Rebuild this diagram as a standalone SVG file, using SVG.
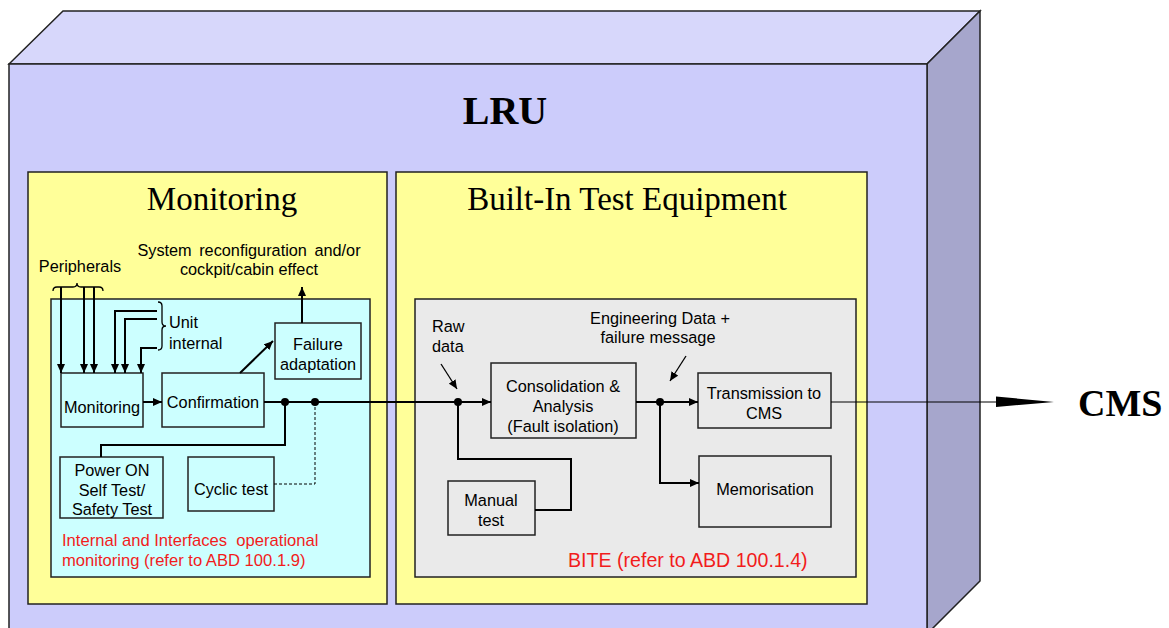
<svg xmlns="http://www.w3.org/2000/svg" width="1169" height="628" viewBox="0 0 1169 628">
<style>
.box{stroke:#222;stroke-width:1.5}
.t{font-family:"Liberation Sans",Arial,sans-serif;font-size:16.3px;fill:#000;text-anchor:middle}
.ts{font-family:"Liberation Sans",Arial,sans-serif;font-size:16.3px;fill:#000}
.red{font-family:"Liberation Sans",Arial,sans-serif;fill:#f21c1c}
.serif{font-family:"Liberation Serif","Times New Roman",serif;fill:#000;text-anchor:middle}
.c{fill:none;stroke:#000;stroke-width:2}
.thin{fill:none;stroke:#000;stroke-width:1.3}
</style>
<defs>
<marker id="ah" markerUnits="userSpaceOnUse" markerWidth="9" markerHeight="8" refX="9" refY="4" orient="auto">
<path d="M0,0 L9,4 L0,8 z" fill="#000"/>
</marker>
</defs>
<rect width="1169" height="628" fill="#fff"/>
<g id="lru">
<polygon points="9,64 63,11 980,11 927,64" fill="#d7d7fb" class="box"/>
<polygon points="927,64 980,11 980,581 927,634" fill="#a6a6cc" class="box"/>
<rect x="9" y="64" width="918" height="570" fill="#ccccfb" class="box"/>
<text x="505" y="124" class="serif" font-size="40" font-weight="bold">LRU</text>
</g>
<g id="monitoring-panel">
<rect x="28" y="172" width="359" height="432" fill="#ffff99" class="box"/>
<text x="222" y="210" class="serif" font-size="33">Monitoring</text>
<rect x="51" y="299" width="319" height="278" fill="#ccffff" class="box"/>
<text x="62" y="546" class="red" font-size="16.6">Internal and Interfaces&#160; operational</text>
<text x="62" y="566" class="red" font-size="16.6">monitoring (refer to ABD 100.1.9)</text>
</g>
<g id="bite-panel">
<rect x="396" y="172" width="471" height="432" fill="#ffff99" class="box"/>
<text x="627" y="210" class="serif" font-size="33">Built-In Test Equipment</text>
<rect x="415" y="299" width="441" height="278" fill="#eaeaea" class="box"/>
<text x="568" y="567" class="red" font-size="19.6">BITE (refer to ABD 100.1.4)</text>
</g>
<g id="labels">
<text x="249" y="256" class="t" word-spacing="3">System reconfiguration and/or</text>
<text x="249" y="275" class="t">cockpit/cabin effect</text>
<text x="80" y="272" class="t">Peripherals</text>
<text x="169" y="328" class="ts">Unit</text>
<text x="169" y="349" class="ts">internal</text>
<text x="432" y="332" class="ts">Raw</text>
<text x="432" y="352" class="ts">data</text>
<text x="660" y="324" class="t">Engineering Data +</text>
<text x="658" y="343" class="t">failure message</text>
<text x="1078" y="416" font-family="Liberation Serif,'Times New Roman',serif" font-size="38" font-weight="bold">CMS</text>
</g>
<g id="node-monitoring">
<rect x="61" y="373" width="82" height="54" fill="none" class="box"/>
<text x="102" y="413" class="t">Monitoring</text>
</g>
<g id="node-confirmation">
<rect x="162" y="373" width="102" height="54" fill="none" class="box"/>
<text x="213" y="408" class="t">Confirmation</text>
</g>
<g id="node-failure">
<rect x="275" y="323" width="86" height="56" fill="none" class="box"/>
<text x="318" y="350" class="t">Failure</text>
<text x="318" y="370" class="t">adaptation</text>
</g>
<g id="node-poweron">
<rect x="60" y="457" width="103" height="61" fill="none" class="box"/>
<text x="112" y="476" class="t">Power ON</text>
<text x="112" y="496" class="t">Self Test/</text>
<text x="112" y="515" class="t">Safety Test</text>
</g>
<g id="node-cyclic">
<rect x="188" y="457" width="86" height="54" fill="none" class="box"/>
<text x="231" y="495" class="t">Cyclic test</text>
</g>
<g id="node-consolidation">
<rect x="491" y="363" width="145" height="75" fill="none" class="box"/>
<text x="563" y="392" class="t">Consolidation &amp;</text>
<text x="563" y="412" class="t">Analysis</text>
<text x="563" y="432" class="t">(Fault isolation)</text>
</g>
<g id="node-transmission">
<rect x="698" y="373" width="133" height="55" fill="none" class="box"/>
<text x="764" y="399" class="t">Transmission to</text>
<text x="764" y="419" class="t">CMS</text>
</g>
<g id="node-manual">
<rect x="448" y="481" width="87" height="54" fill="none" class="box"/>
<text x="491" y="506" class="t">Manual</text>
<text x="491" y="526" class="t">test</text>
</g>
<g id="node-memorisation">
<rect x="699" y="456" width="132" height="71" fill="none" class="box"/>
<text x="765" y="495" class="t">Memorisation</text>
</g>
<g id="connectors">
<path d="M53,291 q0,-4 4,-4 h16 q4,0 4,-4 q0,4 4,4 h18 q4,0 4,4" class="thin"/>
<path d="M61,287 V373" class="c" marker-end="url(#ah)"/>
<path d="M84,287 V373" class="c" marker-end="url(#ah)"/>
<path d="M94,287 V373" class="c" marker-end="url(#ah)"/>
<path d="M158,302 q4,0 4,4 v16 q0,4 4,4 q-4,0 -4,4 v16 q0,4 -4,4" class="thin"/>
<path d="M157,311 H115 V373" class="c" marker-end="url(#ah)"/>
<path d="M157,319 H125 V373" class="c" marker-end="url(#ah)"/>
<path d="M157,348 H141 V373" class="c" marker-end="url(#ah)"/>
<path d="M143,402 H162" class="c" marker-end="url(#ah)"/>
<path d="M240,373 L273,341" class="c" marker-end="url(#ah)"/>
<path d="M302,323 V287" class="c" marker-end="url(#ah)"/>
<path d="M264,402 H491" class="c" marker-end="url(#ah)"/>
<path d="M285,402 V445 H101 V457" class="c"/>
<path d="M315,402 V484 H274" fill="none" stroke="#000" stroke-width="1" stroke-dasharray="3,2"/>
<circle cx="285" cy="402" r="4"/>
<circle cx="315" cy="402" r="4"/>
<path d="M441,364 L457,389" class="thin" marker-end="url(#ah)"/>
<path d="M458,402 V459 H571 V510 H535" class="c" stroke-width="1.5"/>
<circle cx="458" cy="402" r="4"/>
<path d="M636,402 H698" class="c" marker-end="url(#ah)"/>
<path d="M686,356 L670,381" class="thin" marker-end="url(#ah)"/>
<path d="M660,402 V483 H699" class="c" marker-end="url(#ah)"/>
<circle cx="660" cy="402" r="4"/>
<path d="M831,402 H998" fill="none" stroke="#000" stroke-width="1.2"/>
<polygon points="996,396.5 1054,402 996,407" fill="#000"/>
</g>
</svg>
